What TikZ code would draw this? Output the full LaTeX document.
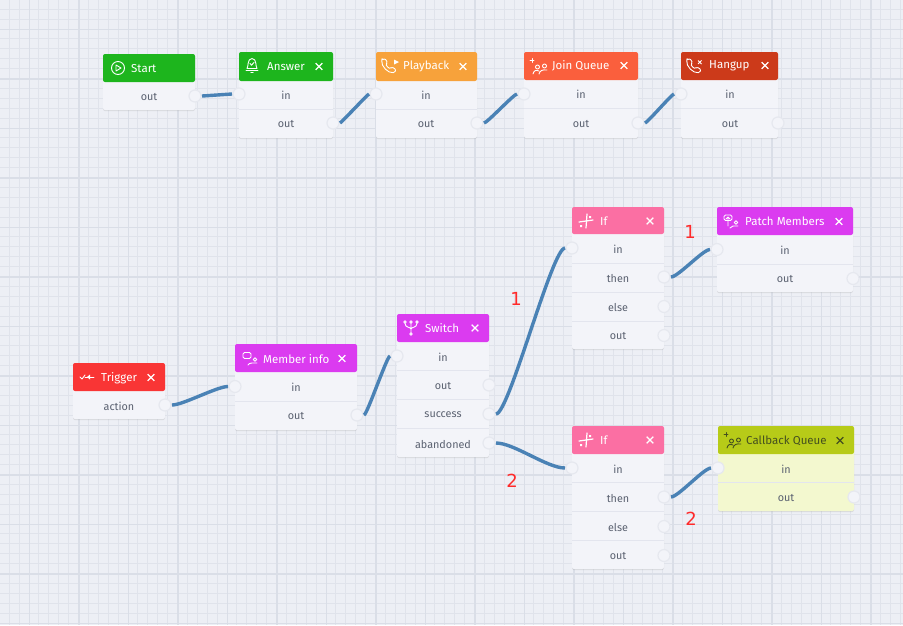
\documentclass[tikz,border=0pt]{standalone}
\usepackage{fontspec}
\setmainfont{Fira Sans}
\newfontfamily\numfont{DejaVu Sans}
\usetikzlibrary{shadows}
\definecolor{bgc}{HTML}{EDEFF5}
\definecolor{finec}{HTML}{E0E3EB}
\definecolor{majc}{HTML}{DADEE7}
\definecolor{bodyc}{HTML}{F3F4F9}
\definecolor{sepc}{HTML}{E3E5EE}
\definecolor{txtc}{HTML}{5A6170}
\definecolor{conc}{HTML}{4A82B5}
\definecolor{portc}{HTML}{F3F4F9}
\definecolor{ringc}{HTML}{E6E8EF}
\definecolor{cgreen}{HTML}{1DB51D}
\definecolor{corange}{HTML}{F7A23B}
\definecolor{cjoin}{HTML}{FA5F3D}
\definecolor{chang}{HTML}{CC3A1A}
\definecolor{ctrig}{HTML}{F93535}
\definecolor{cmemb}{HTML}{DB3BF0}
\definecolor{cif}{HTML}{FB6FA3}
\definecolor{ccall}{HTML}{B7CB18}
\definecolor{cyell}{HTML}{F3F8CF}
\definecolor{cdark}{HTML}{45501F}
\definecolor{numc}{HTML}{FF2A2A}
\tikzset{
  blkbody/.style={draw=none,inner sep=0pt,outer sep=0pt,rounded corners=2pt,
    drop shadow={shadow xshift=0pt,shadow yshift=-1pt,opacity=.22,fill=black!45}},
  blkhead/.style={draw=none,inner sep=0pt,outer sep=0pt,rounded corners=2pt},
  rowlabel/.style={inner sep=0pt,yshift=-.6pt,text=txtc,font=\fontsize{10.8}{12}\selectfont},
  titlelabel/.style={inner sep=0pt,anchor=west,yshift=-.6pt,font=\fontsize{11.5}{13}\selectfont},
  sepline/.style={draw=sepc,line width=1pt},
  portdot/.style={circle,fill=portc,draw=ringc,line width=1.2pt,minimum size=12pt,inner sep=0pt,outer sep=0pt},
  conn/.style={draw=conc,line width=3.4pt,shorten <=7pt,shorten >=7pt},
  ic/.style={line width=.9pt,line cap=round,line join=round},
  numlabel/.style={inner sep=0pt,text=numc,font=\numfont\fontsize{18}{20}\selectfont}
}
% name, x1, x2, ytop, yhead, ybottom, header colour, body colour
\newcommand{\blockbase}[8]{%
  \pgfmathsetmacro{\bw}{#3-#2}\pgfmathsetmacro{\bh}{#6-#4}%
  \pgfmathsetmacro{\bcx}{(#3+#2)/2}\pgfmathsetmacro{\bcy}{(#6+#4)/2}%
  \pgfmathsetmacro{\hh}{#5-#4}\pgfmathsetmacro{\hcy}{(#5+#4)/2}%
  \node[blkbody,fill=#8,minimum width=\bw pt,minimum height=\bh pt] (#1) at (\bcx,\bcy) {};
  \node[blkhead,fill=#7,minimum width=\bw pt,minimum height=\hh pt] (#1h) at (\bcx,\hcy) {};
}
\newcommand{\closex}[3]{\draw[#3,line width=1.3pt] (#1-3.3,#2-3.3) -- (#1+3.3,#2+3.3) (#1-3.3,#2+3.3) -- (#1+3.3,#2-3.3);}
\newcommand{\rowsep}[3]{\draw[sepline] (#1,#3) -- (#2,#3);}
% icons: local origin at the icon centre
\newcommand{\iplay}[3]{\begin{scope}[shift={(#1,#2)},ic,draw=#3]
  \draw (0,0) circle (6.5);\draw (-2,-3) -- (3,0) -- (-2,3) -- cycle;\end{scope}}
\newcommand{\ibell}[3]{\begin{scope}[shift={(#1,#2)},ic,draw=#3]
  \draw (-5,4) .. controls (-3.5,3) and (-5,-6) .. (0,-6) .. controls (5,-6) and (3.5,3) .. (5,4) -- cycle;
  \draw (-6,6) -- (6,6) (-1.2,8) -- (1.2,8);\draw (-2,-1) -- (-.5,.7) -- (2,-2);\end{scope}}
\newcommand{\iphone}[3]{\begin{scope}[shift={(#1,#2)},ic,draw=#3]
  \draw[rounded corners=1.2pt] (-7,-6) -- (-4,-7.5) -- (-1.5,-3.5) -- (-3,-2) .. controls (-2.5,0) and (-.5,2) .. (1.5,2.5) -- (3,1) -- (7,3.5) -- (5.5,6.5) .. controls (-1,7.5) and (-8,0) .. cycle;\end{scope}}
\newcommand{\iqueue}[3]{\begin{scope}[shift={(#1,#2)},ic,draw=#3]
  \draw (-9,-6.5) -- (-5,-6.5) (-7,-8.5) -- (-7,-4.5);
  \draw (-1.5,0) circle (2) (5.5,-1) circle (2);
  \draw (-6,7) .. controls (-5,3) and (-3,3) .. (0,4) (0,7) .. controls (1,3.5) and (3,2.5) .. (8,3);\end{scope}}
\newcommand{\imember}[3]{\begin{scope}[shift={(#1,#2)},ic,draw=#3]
  \draw[rounded corners=1.5pt] (-7,-5.5) rectangle (1,.5);
  \draw (5,1.5) circle (1.8);\draw (-2,7) .. controls (-1,4.5) and (3,5) .. (7,5);\end{scope}}
\newcommand{\ipatch}[3]{\begin{scope}[shift={(#1,#2)},ic,draw=#3]
  \draw[rounded corners=1.5pt] (-7,-6) rectangle (1,-.5);
  \draw (-3,5) -- (-3,-4) (-5,-2) -- (-3,-4) -- (-1,-2);
  \draw (5,1.5) circle (1.8);\draw (-1,7) .. controls (0,4.5) and (3,5) .. (7,5);\end{scope}}
\newcommand{\iswitch}[3]{\begin{scope}[shift={(#1,#2)},ic,draw=#3]
  \draw (-6,-5) circle (1.3) (0,-5) circle (1.3) (6,-5) circle (1.3) (0,7) circle (1.3);
  \draw (0,-3.7) -- (0,5.7) (-6,-3.7) .. controls (-6,1) and (0,0) .. (0,2) (6,-3.7) .. controls (6,1) and (0,0) .. (0,2);\end{scope}}
\newcommand{\iif}[3]{\begin{scope}[shift={(#1,#2)},ic,draw=#3]
  \draw[line width=1.2pt] (-7,1) -- (7,-1) (1,-7) -- (0,7);
  \fill[#3] (-6,4) rectangle (-4,6) (3,-5) rectangle (5,-3);\end{scope}}
\newcommand{\itrig}[3]{\begin{scope}[shift={(#1,#2)},ic,draw=#3]
  \draw (-7,0) -- (-5,2) -- (-2,-2);\draw (-2,0) -- (7,0);\fill[#3] (0,0) -- (3,-2.5) -- (3,2.5) -- cycle;\end{scope}}
\begin{document}
\begin{tikzpicture}[x=1pt,y=-1pt]
\useasboundingbox (0,0) rectangle (903,625);
\fill[bgc] (0,0) rectangle (903,625);
\foreach \k in {0,...,91}{\pgfmathsetmacro{\gx}{-0.7+9.9*\k}\draw[finec,line width=1pt] (\gx,0) -- (\gx,625);}
\foreach \k in {0,...,63}{\pgfmathsetmacro{\gy}{-0.7+9.9*\k}\draw[finec,line width=1pt] (0,\gy) -- (903,\gy);}
\foreach \k in {0,...,18}{\pgfmathsetmacro{\gx}{29.5+49.5*\k}\draw[majc,line width=1.6pt] (\gx,0) -- (\gx,625);}
\foreach \k in {0,...,12}{\pgfmathsetmacro{\gy}{29.5+49.5*\k}\draw[majc,line width=1.6pt] (0,\gy) -- (903,\gy);}

% Start
\blockbase{start}{103}{195}{54}{82}{110}{cgreen}{bodyc}
\iplay{118}{68}{white}
\node[titlelabel,text=white] (startT) at (131,68) {Start};
\node[rowlabel] (startR1) at (149,96) {out};
\node[portdot] (startOut) at (195,96) {};
% Answer
\blockbase{answer}{239}{333}{52}{81}{138}{cgreen}{bodyc}
\ibell{252}{64.5}{white}
\node[titlelabel,text=white] (answerT) at (267,66) {Answer};
\closex{319}{66.5}{white}
\rowsep{239}{333}{109.5}
\node[rowlabel] (answerR1) at (286,94.5) {in};
\node[rowlabel] (answerR2) at (286,123.5) {out};
\node[portdot] (answerIn) at (239,94) {};
\node[portdot] (answerOut) at (333,123) {};
% Playback
\blockbase{play}{376}{477}{52}{81}{138}{corange}{bodyc}
\iphone{389}{66}{white}
\fill[white] (394,59.5) -- (399,62) -- (394,64.5) -- cycle;
\node[titlelabel,text=white] (playT) at (403,66) {Playback};
\closex{463}{66.5}{white}
\rowsep{376}{477}{109.5}
\node[rowlabel] (playR1) at (426,94.5) {in};
\node[rowlabel] (playR2) at (426,123.5) {out};
\node[portdot] (playIn) at (376,94) {};
\node[portdot] (playOut) at (477,123) {};
% Join Queue
\blockbase{join}{524}{638}{52}{80}{138}{cjoin}{bodyc}
\iqueue{539}{67}{white}
\node[titlelabel,text=white] (joinT) at (552,65.5) {Join Queue};
\closex{624}{65.5}{white}
\rowsep{524}{638}{108.5}
\node[rowlabel] (joinR1) at (581,94) {in};
\node[rowlabel] (joinR2) at (581,123.5) {out};
\node[portdot] (joinIn) at (524,94) {};
\node[portdot] (joinOut) at (638,123) {};
% Hangup
\blockbase{hang}{681}{778}{52}{80}{138}{chang}{bodyc}
\iphone{694}{66}{white}
\draw[white,line width=.9pt] (698,60.5) -- (701.5,64) (698,64) -- (701.5,60.5);
\node[titlelabel,text=white] (hangT) at (709,65.5) {Hangup};
\closex{765}{65.5}{white}
\rowsep{681}{778}{108.5}
\node[rowlabel] (hangR1) at (730,94) {in};
\node[rowlabel] (hangR2) at (730,123.5) {out};
\node[portdot] (hangIn) at (681,94) {};
\node[portdot] (hangOut) at (778,123) {};
% Trigger
\blockbase{trig}{73}{165}{363}{391}{419}{ctrig}{bodyc}
\itrig{87}{377}{white}
\node[titlelabel,text=white] (trigT) at (101,377.5) {Trigger};
\closex{151}{377.5}{white}
\node[rowlabel] (trigR1) at (119,405.5) {action};
\node[portdot] (trigOut) at (165,405) {};
% Member info
\blockbase{memb}{235}{357}{344}{372}{430}{cmemb}{bodyc}
\imember{250}{358}{white}
\node[titlelabel,text=white] (membT) at (263,358) {Member info};
\closex{342}{358.5}{white}
\rowsep{235}{357}{401}
\node[rowlabel] (membR1) at (296,386.5) {in};
\node[rowlabel] (membR2) at (296,415.5) {out};
\node[portdot] (membIn) at (235,386.5) {};
\node[portdot] (membOut) at (357,415) {};
% Switch
\blockbase{sw}{397}{489}{314}{342}{457}{cmemb}{bodyc}
\iswitch{411}{327}{white}
\node[titlelabel,text=white] (swT) at (425,327) {Switch};
\closex{475}{328}{white}
\rowsep{397}{489}{370.5}\rowsep{397}{489}{399.5}\rowsep{397}{489}{428}
\node[rowlabel] (swR1) at (443,356.5) {in};
\node[rowlabel] (swR2) at (443,385.5) {out};
\node[rowlabel] (swR3) at (443,414.5) {success};
\node[rowlabel] (swR4) at (443,443.5) {abandoned};
\node[portdot] (swIn) at (397,356) {};
\node[portdot] (swOut) at (489,385) {};
\node[portdot] (swOk) at (489,414) {};
\node[portdot] (swAb) at (489,443) {};
% If 1
\blockbase{ifa}{572}{664}{207}{234}{349}{cif}{bodyc}
\iif{586}{221}{white}
\node[titlelabel,text=white] (ifaT) at (600,220.5) {If};
\closex{650}{221}{white}
\rowsep{572}{664}{263}\rowsep{572}{664}{292}\rowsep{572}{664}{321}
\node[rowlabel] (ifaR1) at (618,248.5) {in};
\node[rowlabel] (ifaR2) at (618,277.5) {then};
\node[rowlabel] (ifaR3) at (618,306.5) {else};
\node[rowlabel] (ifaR4) at (618,335.5) {out};
\node[portdot] (ifaIn) at (572,248) {};
\node[portdot] (ifaThen) at (664,277) {};
\node[portdot] (ifaElse) at (664,306.5) {};
\node[portdot] (ifaOut) at (664,335.5) {};
% Patch Members
\blockbase{patch}{717}{853}{207}{235}{292}{cmemb}{bodyc}
\ipatch{731}{221}{white}
\node[titlelabel,text=white] (patchT) at (745,221) {Patch Members};
\closex{839}{221.5}{white}
\rowsep{717}{853}{264}
\node[rowlabel] (patchR1) at (785,249.5) {in};
\node[rowlabel] (patchR2) at (785,278.5) {out};
\node[portdot] (patchIn) at (717,249.5) {};
\node[portdot] (patchOut) at (853,278.5) {};
% If 2
\blockbase{ifb}{572}{664}{426}{454}{569}{cif}{bodyc}
\iif{586}{440}{white}
\node[titlelabel,text=white] (ifbT) at (600,440) {If};
\closex{650}{440}{white}
\rowsep{572}{664}{482.5}\rowsep{572}{664}{511.5}\rowsep{572}{664}{540.5}
\node[rowlabel] (ifbR1) at (618,468.5) {in};
\node[rowlabel] (ifbR2) at (618,497.5) {then};
\node[rowlabel] (ifbR3) at (618,526.5) {else};
\node[rowlabel] (ifbR4) at (618,555.5) {out};
\node[portdot] (ifbIn) at (572,468) {};
\node[portdot] (ifbThen) at (664,497) {};
\node[portdot] (ifbElse) at (664,526.5) {};
\node[portdot] (ifbOut) at (664,555.5) {};
% Callback Queue
\blockbase{call}{718}{854}{426}{454}{511}{ccall}{cyell}
\iqueue{733}{441}{cdark}
\node[titlelabel,text=cdark] (callT) at (746,440) {Callback Queue};
\closex{840}{440.5}{cdark}
\rowsep{718}{854}{482.5}
\node[rowlabel] (callR1) at (786,468.5) {in};
\node[rowlabel] (callR2) at (786,497.5) {out};
\node[portdot] (callIn) at (718,468) {};
\node[portdot] (callOut) at (854,497) {};
% connectors
\newcommand{\conline}[3]{%
  \draw[conn] (#1.center) .. controls ([xshift=#3pt]#1.center) and ([xshift=-#3pt]#2.center) .. (#2.center);}
\conline{startOut}{answerIn}{8}
\conline{answerOut}{playIn}{8}
\conline{playOut}{joinIn}{10}
\conline{joinOut}{hangIn}{9}
\conline{trigOut}{membIn}{18}
\conline{membOut}{swIn}{10}
\conline{swOk}{ifaIn}{20}
\conline{swAb}{ifbIn}{25}
\conline{ifaThen}{patchIn}{14}
\conline{ifbThen}{callIn}{14}
% red numbers
\node[numlabel] (n1a) at (516,299) {1};
\node[numlabel] (n1b) at (690,232) {1};
\node[numlabel] (n2a) at (512,481) {2};
\node[numlabel] (n2b) at (691,519) {2};
\end{tikzpicture}
\end{document}
